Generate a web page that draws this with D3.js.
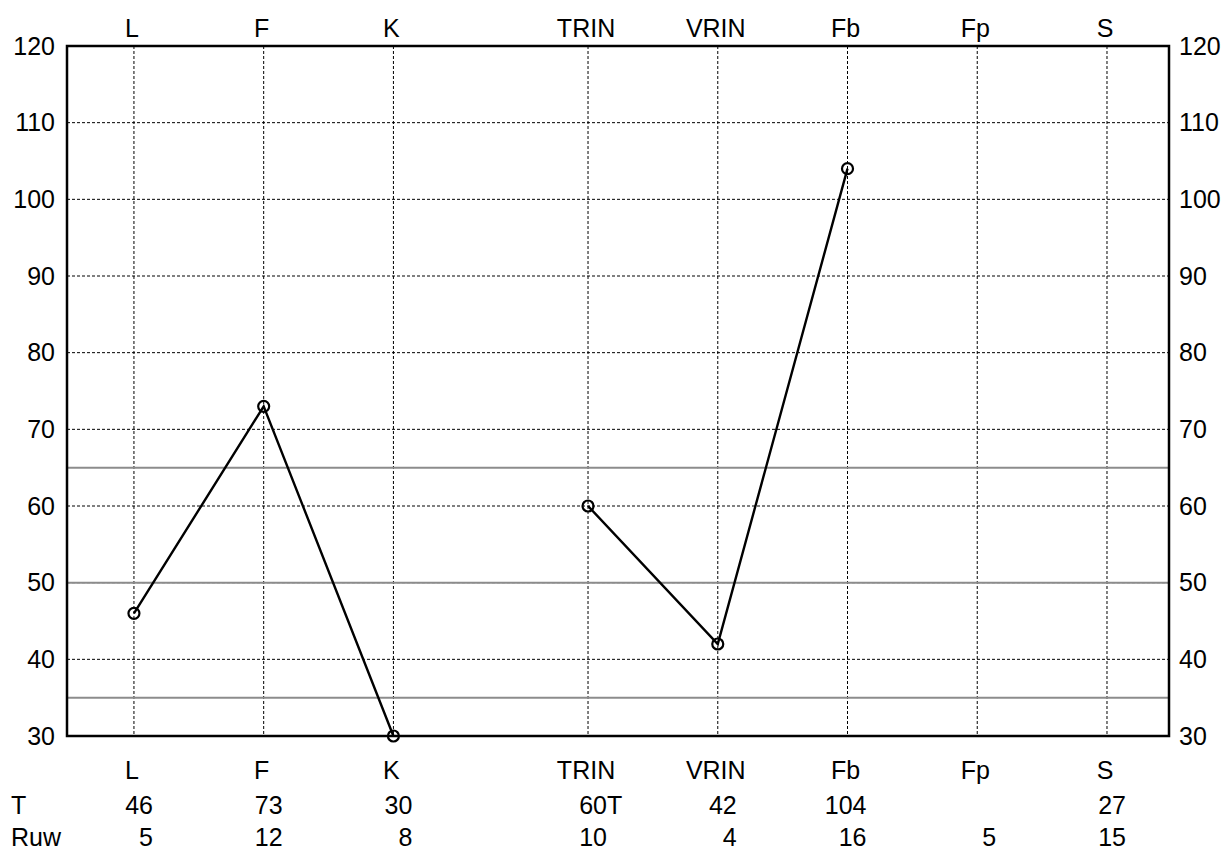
<!DOCTYPE html>
<html>
<head>
<meta charset="utf-8">
<script src="https://cdn.jsdelivr.net/npm/d3@7"></script>
<style>
  html, body { margin: 0; padding: 0; background: #fff; }
  svg { display: block; }
  text { font-family: "Liberation Sans", Arial, Helvetica, sans-serif; fill: #000; }
</style>
</head>
<body>
<svg id="chart" width="1227" height="850"></svg>
<script>
// ---- data ----
const categories = ["L", "F", "K", "TRIN", "VRIN", "Fb", "Fp", "S"];
const catPositions = [0, 1, 2, 3.5, 4.5, 5.5, 6.5, 7.5];
const tScores = [46, 73, 30, 60, 42, 104, null, 27];
const tLabels = ["46", "73", "30", "60", "42", "104", "", "27"];
const tFlags = ["", "", "", "T", "", "", "", ""];
const rawScores = [5, 12, 8, 10, 4, 16, 5, 15];
const lineGroups = [[0, 1, 2], [3, 4, 5]];
const yTicks = [30, 40, 50, 60, 70, 80, 90, 100, 110, 120];
const refLines = [65, 50, 35];
const rowLabels = ["T", "Ruw"];

// ---- layout ----
const svg = d3.select("#chart");
const pLeft = 67, pRight = 1169, pTop = 46, pBottom = 736;
const FS = "25px";

const x = d3.scaleLinear().domain([-0.516, 7.978]).range([pLeft, pRight]);
const y = d3.scaleLinear().domain([30, 120]).range([pBottom, pTop]);

// horizontal dashed grid
svg.append("g").selectAll("line")
  .data(yTicks.filter(d => d > 30 && d < 120))
  .join("line")
  .attr("x1", pLeft).attr("x2", pRight)
  .attr("y1", d => y(d)).attr("y2", d => y(d))
  .attr("stroke", "#000").attr("stroke-width", 1)
  .attr("stroke-dasharray", "3,2");

// vertical dashed grid
svg.append("g").selectAll("line")
  .data(catPositions)
  .join("line")
  .attr("x1", d => x(d)).attr("x2", d => x(d))
  .attr("y1", pTop).attr("y2", pBottom)
  .attr("stroke", "#000").attr("stroke-width", 1)
  .attr("stroke-dasharray", "3,2");

// reference lines
svg.append("g").selectAll("line")
  .data(refLines)
  .join("line")
  .attr("x1", pLeft).attr("x2", pRight)
  .attr("y1", d => y(d)).attr("y2", d => y(d))
  .attr("stroke", "#8c8c8c").attr("stroke-width", 2);

// frame
svg.append("rect")
  .attr("x", pLeft).attr("y", pTop)
  .attr("width", pRight - pLeft).attr("height", pBottom - pTop)
  .attr("fill", "none").attr("stroke", "#000").attr("stroke-width", 2.5);

// y axis labels
const yLeft = d3.axisLeft(y).tickValues(yTicks).tickSize(0).tickPadding(12);
const gl = svg.append("g").attr("transform", `translate(${pLeft},0)`).call(yLeft);
gl.select(".domain").remove();
gl.attr("font-family", null).attr("font-size", null);
gl.selectAll("text").style("font-size", FS);

const yRight = d3.axisRight(y).tickValues(yTicks).tickSize(0).tickPadding(10);
const gr = svg.append("g").attr("transform", `translate(${pRight},0)`).call(yRight);
gr.select(".domain").remove();
gr.attr("font-family", null).attr("font-size", null);
gr.selectAll("text").style("font-size", FS);

// category labels top and bottom
svg.append("g").selectAll("text")
  .data(categories)
  .join("text")
  .attr("x", (d, i) => x(catPositions[i]) - 2)
  .attr("y", 37)
  .attr("text-anchor", "middle")
  .style("font-size", FS)
  .text(d => d);

svg.append("g").selectAll("text")
  .data(categories)
  .join("text")
  .attr("x", (d, i) => x(catPositions[i]) - 2)
  .attr("y", 779)
  .attr("text-anchor", "middle")
  .style("font-size", FS)
  .text(d => d);

// row labels
svg.append("g").selectAll("text")
  .data(rowLabels)
  .join("text")
  .attr("x", 11)
  .attr("y", (d, i) => 814 + i * 32)
  .style("font-size", FS)
  .text(d => d);

// T row
svg.append("g").selectAll("text")
  .data(tLabels)
  .join("text")
  .attr("x", (d, i) => x(catPositions[i]) + 19)
  .attr("y", 814)
  .attr("text-anchor", "end")
  .style("font-size", FS)
  .text(d => d);
svg.append("g").selectAll("text")
  .data(tFlags)
  .join("text")
  .attr("x", (d, i) => x(catPositions[i]) + 19)
  .attr("y", 814)
  .attr("text-anchor", "start")
  .style("font-size", FS)
  .text(d => d);

// Raw row
svg.append("g").selectAll("text")
  .data(rawScores)
  .join("text")
  .attr("x", (d, i) => x(catPositions[i]) + 19)
  .attr("y", 846)
  .attr("text-anchor", "end")
  .style("font-size", FS)
  .text(d => d);

// profile lines
const line = d3.line().x(i => x(catPositions[i])).y(i => y(tScores[i]));
svg.append("g").selectAll("path")
  .data(lineGroups)
  .join("path")
  .attr("d", d => line(d))
  .attr("fill", "none").attr("stroke", "#000").attr("stroke-width", 2.4);

// points
const pts = tScores.map((v, i) => ({ v, i })).filter(d => d.v != null && d.v >= 30 && d.v <= 120);
svg.append("g").selectAll("circle")
  .data(pts)
  .join("circle")
  .attr("cx", d => x(catPositions[d.i]))
  .attr("cy", d => y(d.v))
  .attr("r", 5.5)
  .attr("fill", "none").attr("stroke", "#000").attr("stroke-width", 2.2);
</script>
</body>
</html>
